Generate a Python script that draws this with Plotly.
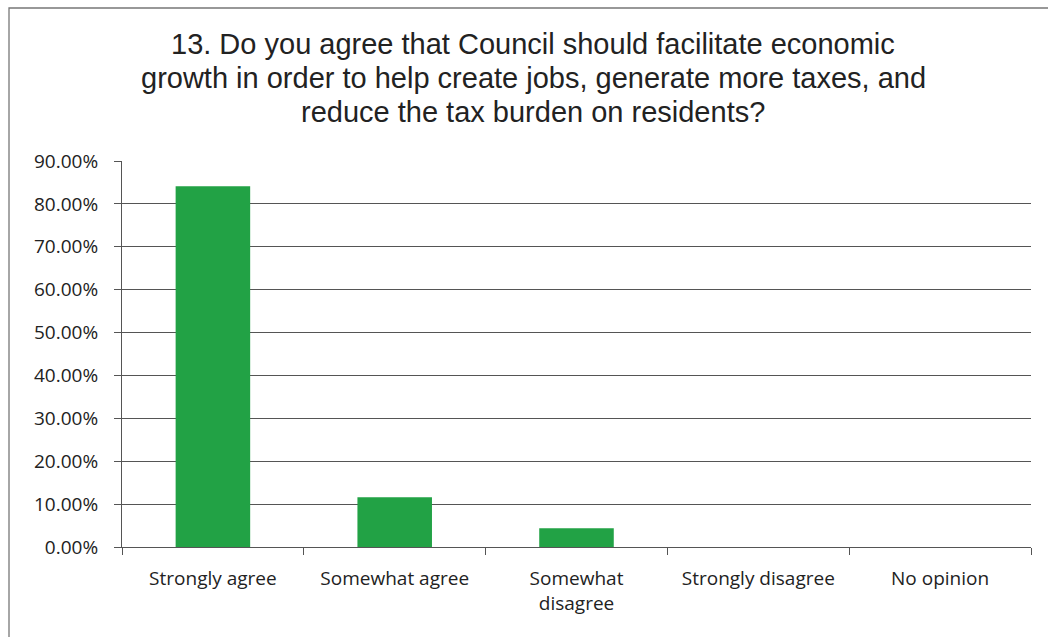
import plotly.graph_objects as go

categories = ["Strongly agree", "Somewhat agree", "Somewhat<br>disagree", "Strongly disagree", "No opinion"]
shares = [0.841, 0.116, 0.044, 0.0, 0.0]
tick_vals = [0, 0.1, 0.2, 0.3, 0.4, 0.5, 0.6, 0.7, 0.8, 0.9]
tick_text = ["0.00%", "10.00%", "20.00%", "30.00%", "40.00%", "50.00%", "60.00%", "70.00%", "80.00%", "90.00%"]

title_lines = [
    "13. Do you agree that Council should facilitate economic",
    "growth in order to help create jobs, generate more taxes, and",
    "reduce the tax burden on residents?",
]

# plot area in pixels: x 122..1031, y 161..547
PLOT_H = 386
PLOT_BOTTOM = 547


def py(pixel_y):
    """Convert a page pixel row to paper y."""
    return (PLOT_BOTTOM - pixel_y) / PLOT_H


fig = go.Figure(go.Bar(x=categories, y=shares, marker=dict(color="#22A245", line=dict(width=0))))

title_centers = [44, 78, 112]
annotations = [
    dict(text=line, xref="paper", yref="paper", x=(533 - 122) / 909, y=py(cy),
         xanchor="center", yanchor="middle", showarrow=False,
         font=dict(family="Liberation Sans, Arial", size=29, color="#222"))
    for line, cy in zip(title_lines, title_centers)
]

fig.update_layout(
    width=1048, height=637,
    margin=dict(l=122, r=17, t=161, b=90),
    paper_bgcolor="white", plot_bgcolor="white",
    bargap=0.59,
    showlegend=False,
    font=dict(family="Open Sans, sans-serif", size=19, color="#222"),
    annotations=annotations,
    shapes=[dict(type="rect", xref="paper", yref="paper",
                 x0=(9 - 122) / 909, x1=1.03, y0=py(660), y1=py(8),
                 line=dict(color="#777", width=1.3))],
)

fig.update_xaxes(showline=True, linecolor="#555", linewidth=1.2,
                 ticks="outside", tickson="boundaries", ticklen=7, tickcolor="#555",
                 ticklabelstandoff=14,
                 tickfont=dict(size=19, color="#222"), showgrid=False)
fig.update_yaxes(range=[0, 0.9], tickvals=tick_vals, ticktext=tick_text,
                 showline=True, linecolor="#555", linewidth=1.2,
                 ticks="outside", ticklen=7, tickcolor="#555",
                 ticklabelstandoff=12,
                 showgrid=True, gridcolor="#555", gridwidth=1.2,
                 zeroline=False, tickfont=dict(size=19, color="#222"))

fig.write_html("out.html")
